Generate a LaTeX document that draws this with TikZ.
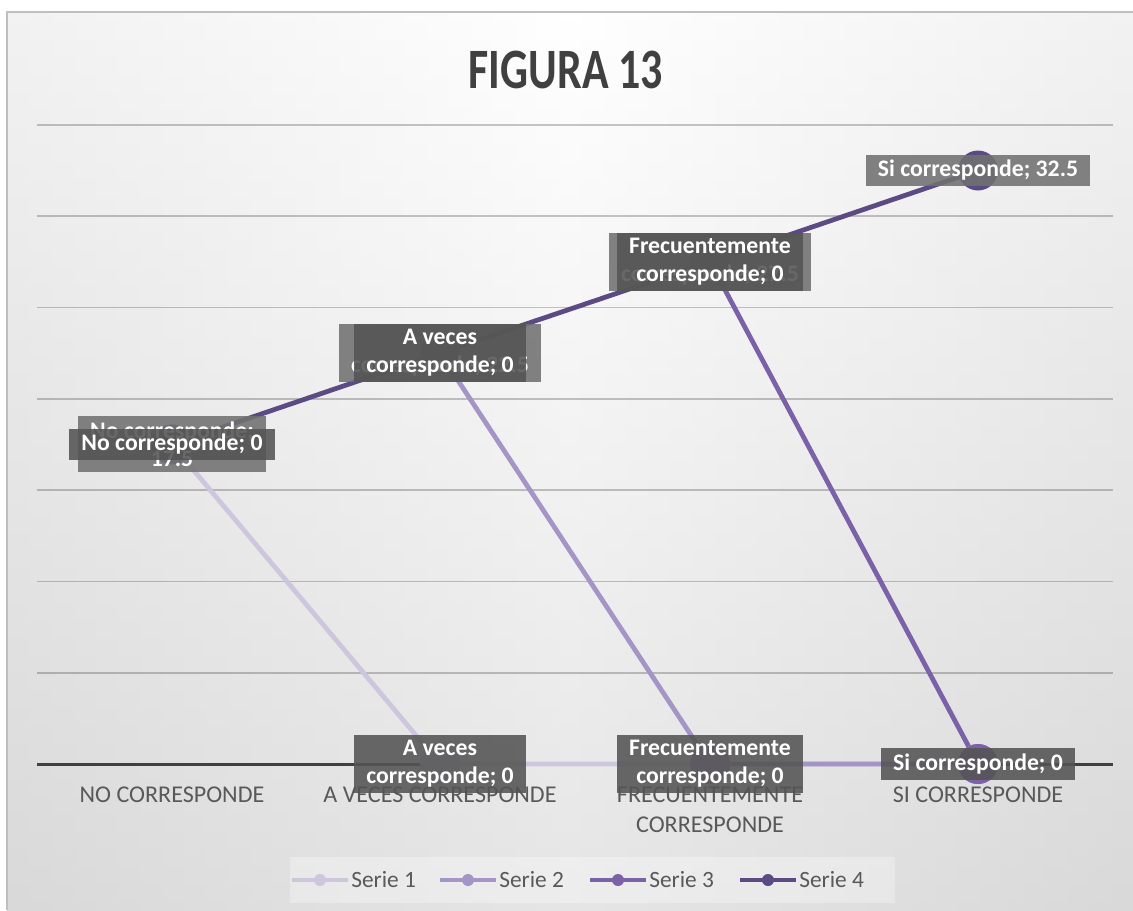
\documentclass[tikz,border=0pt]{standalone}
\usepackage{fontspec}
\setmainfont{Carlito}
\usepackage{tikz}
\usetikzlibrary{positioning}
\definecolor{serieuno}{HTML}{CEC6DD}
\definecolor{seriedos}{HTML}{A595C6}
\definecolor{serietres}{HTML}{7B61A8}
\definecolor{seriecuatro}{HTML}{5C4A85}
\definecolor{lblback}{HTML}{717171}
\definecolor{lblfront}{HTML}{545454}
\definecolor{axisgray}{HTML}{404040}
\definecolor{textgray}{HTML}{595959}
\definecolor{titlegray}{HTML}{404040}
\tikzset{
  gridline/.style={draw=black, draw opacity=0.22, line width=0.35mm},
  axisline/.style={draw=axisgray, line width=0.6mm},
  serie/.style={draw=#1, line width=0.95mm, line join=round},
  dot/.style={circle, fill=#1, inner sep=0pt, minimum size=8mm},
  etiq/.style={fill=#1, fill opacity=0.88, text opacity=1, text=white, align=center,
    font=\fontsize{13.5}{16}\selectfont\bfseries, inner xsep=2.4mm, inner ysep=1.1mm},
  etiq/.default=lblfront,
  categoria/.style={text=textgray, align=center, font=\fontsize{13.7}{17}\selectfont, anchor=north, inner sep=0pt},
  leyenda/.style={text=textgray, font=\fontsize{13.3}{15}\selectfont, inner sep=0.6mm}
}

\begin{document}
\begin{tikzpicture}[x=0.2mm, y=-0.2mm]
\useasboundingbox (0,0) rectangle (1133,910);
% fondo del grafico
\shade[top color=white, bottom color=black!20] (7,12) rectangle (1133,910);
\shade[left color=black!10, right color=black!10, middle color=white, opacity=0.5] (7,12) rectangle (1133,910);
\draw[black!25, line width=0.4mm] (7,910) -- (7,12) -- (1133,12);

\node[font=\fontsize{25}{30}\selectfont\bfseries, text=titlegray] (titulo) at (566,70) {\scalebox{1}[1.3]{FIGURA 13}};

% rejilla
\foreach \k in {1,...,7}
  \draw[gridline] (37,{764-91.3*\k}) -- (1113,{764-91.3*\k});
\draw[axisline] (37,764) -- (1113,764);

% categorias
\node[categoria] (cat1) at (172,787) {NO CORRESPONDE};
\node[categoria] (cat2) at (440,787) {A VECES CORRESPONDE};
\node[categoria] (cat3) at (710,787) {FRECUENTEMENTE\\CORRESPONDE};
\node[categoria] (cat4) at (978,787) {SI CORRESPONDE};

% puntos de las series
\coordinate (nc1) at (172,444.4);
\coordinate (av1) at (440,764);
\coordinate (fc1) at (710,764);
\coordinate (sc1) at (978,764);
\coordinate (av2) at (440,353.1);
\coordinate (fc2) at (710,764);
\coordinate (sc2) at (978,764);
\coordinate (fc3) at (710,261.8);
\coordinate (sc3) at (978,764);
\coordinate (nc4) at (172,444.4);
\coordinate (av4) at (440,353.1);
\coordinate (fc4) at (710,261.8);
\coordinate (sc4) at (978,170.5);

\draw[serie=serieuno] (nc1) -- (av1) -- (fc1) -- (sc1);
\draw[serie=seriedos] (av2) -- (fc2) -- (sc2);
\draw[serie=serietres] (fc3) -- (sc3);
\draw[serie=seriecuatro] (nc4) -- (av4) -- (fc4) -- (sc4);

\foreach \p in {nc1,av1,fc1,sc1} \node[dot=serieuno] (m-\p) at (\p) {};
\foreach \p in {av2,fc2,sc2} \node[dot=seriedos] (m-\p) at (\p) {};
\foreach \p in {fc3,sc3} \node[dot=serietres] (m-\p) at (\p) {};
\foreach \p in {nc4,av4,fc4,sc4} \node[dot=seriecuatro] (m-\p) at (\p) {};

% etiquetas de datos
\node[etiq=lblback] (b-nc) at (nc4) {No corresponde;\\17.5};
\node[etiq=lblback] (b-av) at (av4) {A veces\\corresponde; 22.5};
\node[etiq=lblback] (b-fc) at (fc4) {Frecuentemente\\corresponde; 27.5};
\node[etiq] (l-nc) at (nc1) {No corresponde; 0};
\node[etiq] (l-av) at (av2) {A veces\\corresponde; 0};
\node[etiq] (l-fc) at (fc3) {Frecuentemente\\corresponde; 0};
\node[etiq=lblback] (l-sc) at (sc4) {Si corresponde; 32.5};
\node[etiq] (l-av0) at (av1) {A veces\\corresponde; 0};
\node[etiq] (l-fc0) at (fc1) {Frecuentemente\\corresponde; 0};
\node[etiq] (l-sc0) at (sc1) {Si corresponde; 0};

% leyenda
\fill[white, fill opacity=0.3] (290,857) rectangle (895,903);
\foreach \i/\c/\x in {1/serieuno/292, 2/seriedos/440, 3/serietres/590, 4/seriecuatro/740}{
  \coordinate (la\i) at (\x,880);
  \coordinate (lb\i) at (\x+56,880);
  \draw[serie=\c] (la\i) -- (lb\i);
  \node[dot=\c, minimum size=2.4mm] (lm\i) at (\x+28,880) {};
  \node[leyenda, right=0pt of lb\i] (ley\i) {Serie \i};
}
\end{tikzpicture}
\end{document}
